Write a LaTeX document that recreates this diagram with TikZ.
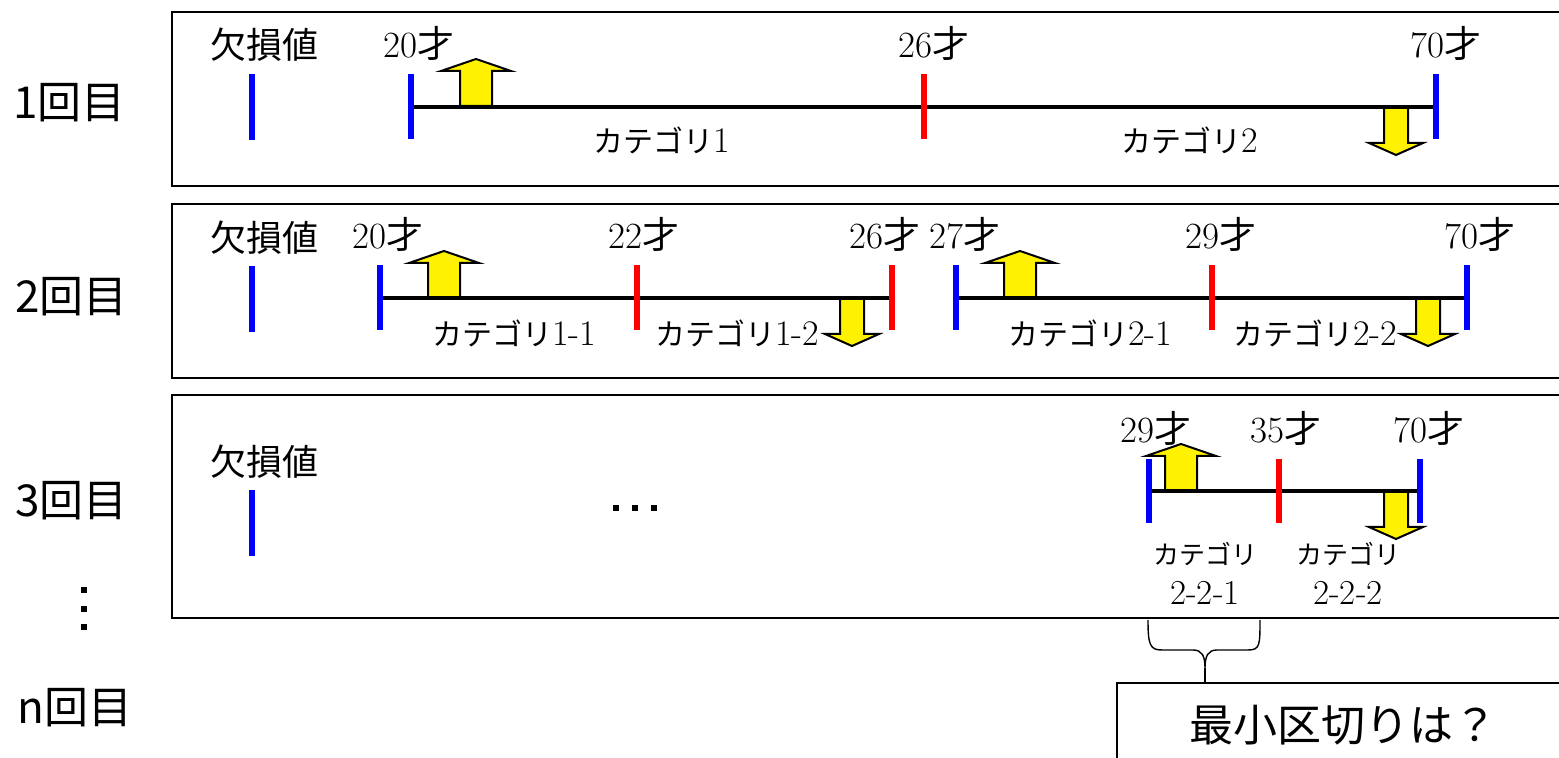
\documentclass[tikz,border=0pt]{standalone}
\usepackage{fontspec}
\newfontfamily\jp{Noto Sans CJK JP}
\newcommand\numsz{\fontsize{18}{20}\selectfont}
\begin{document}
\begin{tikzpicture}[x=0.5pt,y=-0.5pt,
  frame/.style={draw=black,line width=1pt},
  axis/.style={line width=2pt,black},
  tickb/.style={line width=3pt,blue},
  tickr/.style={line width=3pt,red},
  age/.style={anchor=base west,inner sep=0,font=\fontsize{18.5}{20}\selectfont},
  cat/.style={anchor=west,inner sep=0,font=\fontsize{15}{18}\selectfont},
  catsmall/.style={inner sep=0,align=center,font=\fontsize{17.5}{19}\selectfont},
  rowlab/.style={anchor=west,inner sep=0,font=\jp\fontsize{22}{26}\selectfont},
  miss/.style={inner sep=0,font=\jp\fontsize{18}{22}\selectfont},
  body/.style={fill=yellow,draw=black,line width=1pt,line join=miter},
  brace/.style={draw=black,line width=0.7pt},
  uparrowpic/.pic={\path[body] (-16,0) -- (-16,-35) -- (-35,-35) -- (0,-47) -- (35,-35) -- (16,-35) -- (16,0) -- cycle;},
  downarrowpic/.pic={\path[body] (-12,0) -- (-12,36) -- (-27,36) -- (0,48) -- (27,36) -- (12,36) -- (12,0) -- cycle;},
]
\useasboundingbox (0,0) rectangle (1559,758);
\clip (0,0) rectangle (1559,758);

% round labels
\node[rowlab] (r1) at (13,103) {1回目};
\node[rowlab] (r2) at (15,297) {2回目};
\node[rowlab] (r3) at (15,501) {3回目};
\node[rowlab] (rn) at (17,708) {n回目};
\foreach \yy in {590,609,627} \fill (84,\yy) +(-3,-3) rectangle +(3,3);

% frames
\draw[frame] (172,12) rectangle (1600,186);
\draw[frame] (172,204) rectangle (1600,378);
\draw[frame] (172,395) rectangle (1600,618);

% ---------- round 1 ----------
\node[miss] (m1) at (264,45) {欠損値};
\draw[tickb] (252,74.5) -- (252,140);
\coordinate (a1) at (411,107);
\coordinate (a2) at (924,107);
\coordinate (a3) at (1436,107);
\pic at (476,106) {uparrowpic};
\pic at (1396,107) {downarrowpic};
\draw[axis] (a1) -- (a2) -- (a3);
\draw[tickb] (a1) ++(0,-32.5) -- ++(0,65);
\draw[tickr] (a2) ++(0,-32.5) -- ++(0,65);
\draw[tickb] (a3) ++(0,-32.5) -- ++(0,65);
\node[age] (g11) at (383,58) {20{\jp 才}};
\node[age] (g12) at (898,58) {26{\jp 才}};
\node[age] (g13) at (1410,58) {70{\jp 才}};
\node[cat] (c11) at (593,140) {{\jp カテゴリ}\numsz 1};
\node[cat] (c12) at (1121,140) {{\jp カテゴリ}\numsz 2};

% ---------- round 2 ----------
\node[miss] (m2) at (264,238) {欠損値};
\draw[tickb] (252,266.5) -- (252,332);
\coordinate (b1) at (380,298);
\coordinate (b2) at (637,298);
\coordinate (b3) at (892,298);
\coordinate (b4) at (956,298);
\coordinate (b5) at (1212,298);
\coordinate (b6) at (1467,298);
\pic at (444,298) {uparrowpic};
\pic at (1020,298) {uparrowpic};
\pic at (852,298) {downarrowpic};
\pic at (1428,298) {downarrowpic};
\draw[axis] (b1) -- (b2) -- (b3);
\draw[axis] (b4) -- (b5) -- (b6);
\draw[tickb] (b1) ++(0,-32.5) -- ++(0,65);
\draw[tickr] (b2) ++(0,-32.5) -- ++(0,65);
\draw[tickr] (b3) ++(0,-32.5) -- ++(0,65);
\draw[tickb] (b4) ++(0,-32.5) -- ++(0,65);
\draw[tickr] (b5) ++(0,-32.5) -- ++(0,65);
\draw[tickb] (b6) ++(0,-32.5) -- ++(0,65);
\node[age] (g21) at (352,249) {20{\jp 才}};
\node[age] (g22) at (608,249) {22{\jp 才}};
\node[age] (g23) at (849,249) {26{\jp 才}};
\node[age] (g24) at (929,249) {27{\jp 才}};
\node[age] (g25) at (1185,249) {29{\jp 才}};
\node[age] (g26) at (1444,249) {70{\jp 才}};
\node[cat] (c21) at (432,333) {{\jp カテゴリ}\numsz 1-1};
\node[cat] (c22) at (655,333) {{\jp カテゴリ}\numsz 1-2};
\node[cat] (c23) at (1008,333) {{\jp カテゴリ}\numsz 2-1};
\node[cat] (c24) at (1233,333) {{\jp カテゴリ}\numsz 2-2};

% ---------- round 3 ----------
\node[miss] (m3) at (264,462) {欠損値};
\draw[tickb] (252,490.5) -- (252,556);
\foreach \xx in {616,635,654} \fill (\xx,508) +(-3,-3) rectangle +(3,3);
\coordinate (d1) at (1149,491);
\coordinate (d2) at (1279,491);
\coordinate (d3) at (1420,491);
\pic at (1181,491) {uparrowpic};
\pic at (1396,491) {downarrowpic};
\draw[axis] (d1) -- (d2) -- (d3);
\draw[tickb] (d1) ++(0,-32) -- ++(0,64);
\draw[tickr] (d2) ++(0,-32) -- ++(0,64);
\draw[tickb] (d3) ++(0,-32) -- ++(0,64);
\node[age] (g31) at (1120,443) {29{\jp 才}};
\node[age] (g32) at (1250,443) {35{\jp 才}};
\node[age] (g33) at (1393,443) {70{\jp 才}};
\node[catsmall] (c31) at (1205,573) {{\jp\fontsize{13}{16}\selectfont カテゴリ}\\[1pt]2-2-1};
\node[catsmall] (c32) at (1348,573) {{\jp\fontsize{13}{16}\selectfont カテゴリ}\\[1pt]2-2-2};

% ---------- smallest interval ----------
\draw[frame] (1117,800) |- (1600,683);
\node[inner sep=0,font=\jp\fontsize{22}{26}\selectfont] (q) at (1343,725) {最小区切りは？};
\coordinate (qtop) at (1205,683);
\coordinate (bl) at (1148,620);
\coordinate (br) at (1260,620);
\coordinate (bm) at (1205,668);
\draw[brace] (bl) .. controls (1148,645) and (1150,650) .. (1162,650) -- (1193,650)
  .. controls (1202,650) and (1205,656) .. (bm)
  .. controls (1205,656) and (1208,650) .. (1217,650) -- (1248,650)
  .. controls (1260,650) and (1260,645) .. (br);
\draw[brace] (bm) -- (qtop);
\end{tikzpicture}
\end{document}
